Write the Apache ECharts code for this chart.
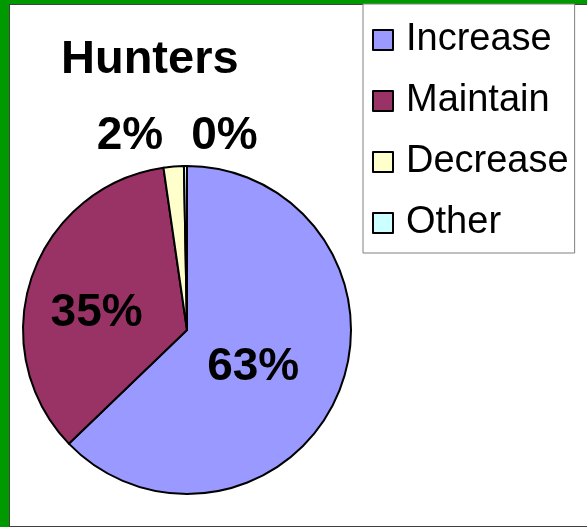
<!DOCTYPE html>
<html>
<head>
<meta charset="utf-8">
<script src="https://cdn.jsdelivr.net/npm/echarts@6/dist/echarts.min.js"></script>
<style>
  body { margin: 0; background: #009900; }
  #panel { position: absolute; left: 9px; top: 4px; width: 600px; height: 521px; background: #fff; border: 1px solid #404040; }
  #chart { position: absolute; left: 0; top: 0; width: 587px; height: 527px; }
</style>
</head>
<body>
<div id="panel"></div>
<div id="chart"></div>
<script>
// hunters survey answers, percent
const categories = ['Increase', 'Maintain', 'Decrease', 'Other']
const values = [63, 35, 2, 0.3]
const colors = ['#9999FF', '#993366', '#FFFFCC', '#CCFFFF']

const font = '"Liberation Sans", Arial, sans-serif'
// small nudges so labels sit where the original put them
const labelNudge = [[-12, 4], [-10, 11], [3, 0], [17, 0]]

const chart = echarts.init(document.getElementById('chart'))

const data = categories.map((name, i) => {
  const item = { name: name, value: values[i], itemStyle: { color: colors[i] } }
  if (values[i] < 10) {
    // small slices get their label above the pie
    item.label = { position: 'outside' }
    item.labelLine = { show: false, length: 30, length2: 6 }
  }
  return item
})

chart.setOption({
  backgroundColor: 'transparent',
  animation: false,
  title: {
    text: 'Hunters',
    left: 56,
    top: 32,
    textStyle: { fontFamily: font, fontSize: 47, fontWeight: 'bold', color: '#000' }
  },
  legend: {
    orient: 'vertical',
    left: 363,
    top: 4,
    padding: [16, 6, 10, 9],
    icon: 'rect',
    itemWidth: 20,
    itemHeight: 20,
    itemGap: 21,
    borderColor: '#808080',
    borderWidth: 1,
    backgroundColor: '#fff',
    data: categories,
    textStyle: {
      fontFamily: font,
      fontSize: 38,
      lineHeight: 40,
      color: '#000',
      padding: [0, 0, 0, 8]
    }
  },
  series: [{
    type: 'pie',
    center: [187, 330],
    radius: 164,
    startAngle: 90,
    clockwise: true,
    avoidLabelOverlap: false,
    percentPrecision: 0,
    itemStyle: { borderColor: '#000', borderWidth: 2 },
    emphasis: { disabled: true },
    label: {
      position: 'inside',
      formatter: '{d}%',
      fontFamily: font,
      fontSize: 46,
      fontWeight: 'bold',
      color: '#000'
    },
    labelLayout: function (p) {
      const n = labelNudge[p.dataIndex]
      const out = { dx: n[0], dy: n[1] }
      if (p.dataIndex === 3) out.align = 'left'
      return out
    },
    data: data
  }]
})
</script>
</body>
</html>
